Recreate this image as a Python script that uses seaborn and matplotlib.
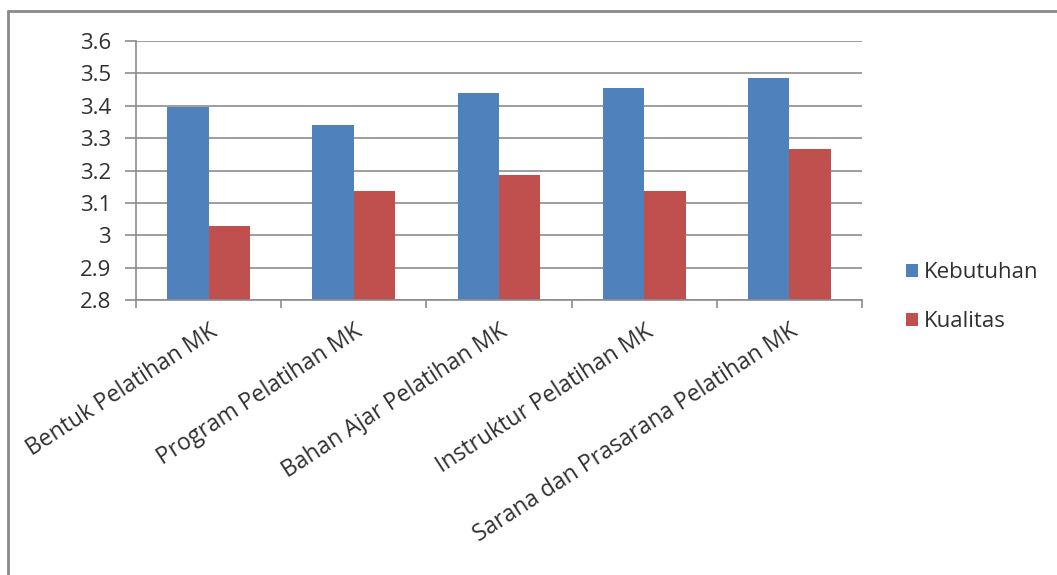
import matplotlib
matplotlib.use("Agg")
import matplotlib.pyplot as plt
import seaborn as sns
import pandas as pd
from matplotlib.lines import Line2D
from matplotlib.patches import Patch

categories = [
    "Bentuk Pelatihan MK",
    "Program Pelatihan MK",
    "Bahan Ajar Pelatihan MK",
    "Instruktur Pelatihan MK",
    "Sarana dan Prasarana Pelatihan MK",
]
kebutuhan = [3.395, 3.34, 3.44, 3.455, 3.485]
kualitas = [3.03, 3.137, 3.187, 3.137, 3.268]
series_names = ["Kebutuhan", "Kualitas"]
y_ticks = [2.8, 2.9, 3.0, 3.1, 3.2, 3.3, 3.4, 3.5, 3.6]
y_tick_labels = ["2.8", "2.9", "3", "3.1", "3.2", "3.3", "3.4", "3.5", "3.6"]

colors = {"Kebutuhan": "#4F81BD", "Kualitas": "#C0504D"}
grid_color = "#8c8c8c"
text_color = "#303030"

df = pd.DataFrame({
    "Kategori": categories * 2,
    "Seri": [series_names[0]] * len(categories) + [series_names[1]] * len(categories),
    "Nilai": kebutuhan + kualitas,
})

sns.set_theme(style="white")
plt.rcParams["font.family"] = ["Open Sans", "DejaVu Sans"]

fig = plt.figure(figsize=(10.57, 5.75), dpi=100)
ax = fig.add_axes([0.1287, 0.478, 0.8155 - 0.1287, 0.9287 - 0.478])

sns.barplot(
    data=df, x="Kategori", y="Nilai", hue="Seri", order=categories,
    hue_order=series_names, palette=colors, width=0.57, saturation=1,
    gap=0, linewidth=0, legend=False, ax=ax,
)

ax.set_ylim(2.8, 3.6)
ax.set_xlim(-0.5, len(categories) - 0.5)
ax.set_yticks(y_ticks)
ax.set_yticklabels(y_tick_labels, color=text_color, fontsize=16)
ax.yaxis.grid(True, color=grid_color, linewidth=1.2)
ax.set_axisbelow(True)
ax.tick_params(axis="y", length=8, width=1.2, color=grid_color, left=True, pad=10)

# category labels at centres, tick marks at category boundaries
ax.set_xticks(range(len(categories)))
ax.set_xticklabels(categories, rotation=33, ha="right", va="top",
                   rotation_mode="anchor", color=text_color, fontsize=16.5)
ax.set_xticks([i - 0.5 for i in range(len(categories) + 1)], minor=True)
ax.tick_params(axis="x", which="major", length=0, pad=14)
ax.tick_params(axis="x", which="minor", length=6, width=1.2, color=grid_color, bottom=True)

for side in ["top", "right"]:
    ax.spines[side].set_visible(False)
for side in ["left", "bottom"]:
    ax.spines[side].set_color(grid_color)
    ax.spines[side].set_linewidth(1.2)
ax.set_xlabel("")
ax.set_ylabel("")

handles = [Patch(facecolor=colors[s], edgecolor="none") for s in series_names]
fig.legend(handles, series_names, loc="center left", bbox_to_anchor=(0.838, 0.483),
           frameon=False, fontsize=16, handlelength=0.55, handleheight=0.55,
           handletextpad=0.25, labelspacing=1.25, labelcolor=text_color)

# outer chart frame
fig.add_artist(Line2D([8 / 1057, 8 / 1057], [0, 1 - 11 / 575], transform=fig.transFigure,
                      color="#8a8a8a", linewidth=2))
fig.add_artist(Line2D([8 / 1057, 1], [1 - 11 / 575, 1 - 11 / 575], transform=fig.transFigure,
                      color="#8a8a8a", linewidth=2))

fig.savefig("out.png", dpi=100)
